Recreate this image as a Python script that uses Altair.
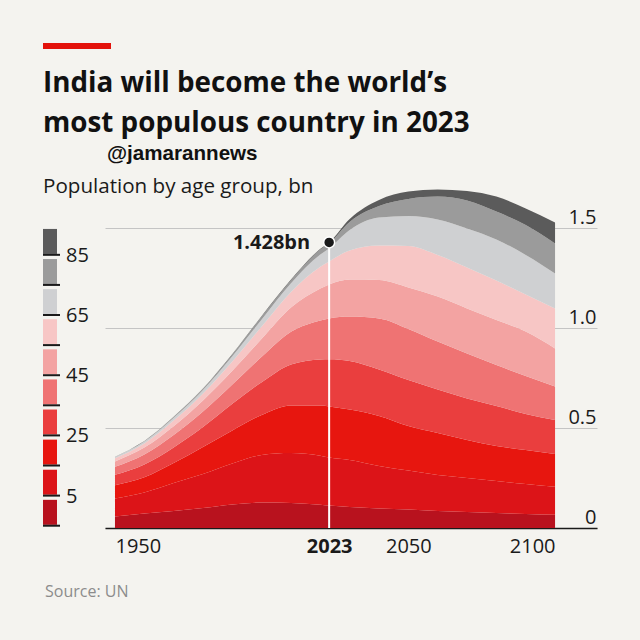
import altair as alt
import pandas as pd

# ---------------- data (India, population by age group, bn) ----------------
years = [1950, 1960, 1970, 1980, 1990, 2000, 2010, 2020, 2023,
         2030, 2040, 2050, 2060, 2070, 2080, 2090, 2100]

groups = ["0-4", "5-14", "15-24", "25-34", "35-44",
          "45-54", "55-64", "65-74", "75-84", "85+"]

colors = ["#b8121e", "#dc1418", "#e7160f", "#ea3e3e", "#ef7373",
          "#f3a3a2", "#f7c6c5", "#cfd0d2", "#9b9b9b", "#5b5b5b"]

age_0_4   = [.058, .072, .085, .100, .118, .127, .125, .116, .112, .105, .098, .092, .085, .080, .075, .070, .066]
age_5_14  = [.090, .106, .140, .170, .205, .238, .250, .245, .240, .235, .212, .195, .180, .170, .160, .150, .140]
age_15_24 = [.066, .076, .100, .135, .165, .200, .238, .252, .256, .252, .250, .223, .210, .190, .175, .170, .164]
age_25_34 = [.052, .064, .078, .100, .133, .164, .205, .230, .236, .243, .233, .230, .218, .208, .200, .180, .170]
age_35_44 = [.040, .050, .062, .077, .096, .127, .163, .195, .204, .222, .255, .255, .239, .225, .205, .190, .167]
age_45_54 = [.027, .034, .044, .056, .069, .090, .121, .160, .170, .185, .192, .208, .225, .225, .225, .222, .191]
age_55_64 = [.016, .021, .028, .035, .047, .061, .078, .108, .115, .145, .172, .207, .208, .205, .197, .186, .200]
age_65_74 = [.0055, .009, .014, .017, .026, .036, .044, .062, .065, .103, .140, .150, .178, .195, .206, .197, .175]
age_75_84 = [.0015, .0025, .0045, .006, .009, .014, .015, .024, .025, .040, .058, .085, .114, .139, .139, .150, .150]
age_85_up = [.0005, .0005, .0007, .001, .0015, .003, .003, .004, .005, .015, .030, .037, .036, .048, .075, .083, .104]

series = [age_0_4, age_5_14, age_15_24, age_25_34, age_35_44,
          age_45_54, age_55_64, age_65_74, age_75_84, age_85_up]

x_ticks = [1950, 2023, 2050, 2100]
y_ticks = [0, 0.5, 1.0, 1.5]

highlight_year = [2023]
highlight_value = [1.428]
highlight_label = ["1.428bn"]

legend_tick_labels = ["5", "25", "45", "65", "85"]
legend_label_pos = [1, 3, 5, 7, 9]

title_lines = ["India will become the world’s", "most populous country in 2023"]
subtitle_text = ["Population by age group, bn"]
watermark_text = ["@jamarannews"]
source_text = ["Source: UN"]

# ---------------- tables ----------------
rows = []
for gi, (g, vals) in enumerate(zip(groups, series)):
    for y, v in zip(years, vals):
        rows.append({"year": y, "group": g, "idx": gi, "value": v})
df = pd.DataFrame(rows)

hl = pd.DataFrame({"year": highlight_year, "value": highlight_value,
                   "label": highlight_label, "zero": [0]})

leg = pd.DataFrame({"group": groups, "i": list(range(len(groups)))})
leg["lo"] = leg["i"] + 0.03
leg["hi"] = leg["i"] + 0.86
leg_lab = pd.DataFrame({"label": legend_tick_labels, "pos": legend_label_pos})

FONT = "Open Sans"
BG = "#f4f3ef"
INK = "#1a1a1a"

xscale = alt.Scale(domain=[1946.6, 2114.3], nice=False, zero=False)
yscale = alt.Scale(domain=[0, 1.7], nice=False, zero=False)
cscale = alt.Scale(domain=groups, range=colors)
legscale = alt.Scale(domain=[-0.076, 11.22], nice=False, zero=False)

x_axis = alt.Axis(values=x_ticks, format="d", title=None, grid=False, ticks=False,
                  domain=True, domainColor=INK, domainWidth=1.5,
                  labelFont=FONT, labelFontSize=20, labelColor=INK,
                  labelPadding=8, labelFlush=False,
                  labelAlign={"condition": [{"test": "datum.value === 1950", "value": "left"},
                                            {"test": "datum.value === 2100", "value": "right"}],
                              "value": "center"},
                  labelFontWeight={"condition": {"test": "datum.value === 2023", "value": "bold"},
                                   "value": "normal"})

y_axis = alt.Axis(values=y_ticks, orient="right", title=None, grid=True,
                  gridColor="#c4c4c4", gridWidth=1, domain=False, ticks=False,
                  tickSize=0, labelAlign="right", labelPadding=-1,
                  labelBaseline="alphabetic", labelOffset=-5, labelFlush=False,
                  labelFont=FONT, labelFontSize=20, labelColor=INK,
                  labelExpr="datum.value == 0 ? '0' : format(datum.value, '.1f')")

areas = alt.Chart(df).mark_area(interpolate="monotone").encode(
    x=alt.X("year:Q", scale=xscale, axis=x_axis),
    y=alt.Y("value:Q", stack="zero", scale=yscale, axis=y_axis),
    color=alt.Color("group:N", scale=cscale, legend=None),
    order=alt.Order("idx:Q", sort="ascending"),
)

vline = alt.Chart(hl).mark_rule(color="white", strokeWidth=2).encode(
    x=alt.X("year:Q", scale=xscale),
    y=alt.Y("zero:Q", scale=yscale, axis=None),
    y2="value:Q",
)

dot = alt.Chart(hl).mark_point(filled=True, shape="circle", size=120, color=INK,
                               stroke="white", strokeWidth=1.5, opacity=1).encode(
    x=alt.X("year:Q", scale=xscale),
    y=alt.Y("value:Q", scale=yscale, axis=None),
)

dot_label = alt.Chart(hl).mark_text(align="right", baseline="middle", dx=-19, dy=1,
                                    font=FONT, fontSize=20, fontWeight="bold",
                                    color=INK).encode(
    x=alt.X("year:Q", scale=xscale),
    y=alt.Y("value:Q", scale=yscale, axis=None),
    text="label:N",
)

leg_bars = alt.Chart(leg).mark_rect().encode(
    x=alt.value(-62), x2=alt.value(-48),
    y=alt.Y("lo:Q", scale=legscale, axis=None), y2="hi:Q",
    color=alt.Color("group:N", scale=cscale, legend=None),
)

leg_ticks = alt.Chart(leg).mark_rule(color=INK, strokeWidth=2).encode(
    x=alt.value(-62), x2=alt.value(-45),
    y=alt.Y("i:Q", scale=legscale, axis=None),
)

leg_text = alt.Chart(leg_lab).mark_text(align="left", baseline="middle", font=FONT,
                                        fontSize=20, color=INK, dy=1).encode(
    x=alt.value(-39),
    y=alt.Y("pos:Q", scale=legscale, axis=None),
    text="label:N",
)

red_bar = alt.Chart(pd.DataFrame({"k": [0]})).mark_rect(color="#e3120b").encode(
    x=alt.value(-62), x2=alt.value(6), y=alt.value(-145), y2=alt.value(-139),
)

title1 = alt.Chart(pd.DataFrame({"t": title_lines[:1]})).mark_text(
    align="left", baseline="alphabetic", font=FONT, fontSize=27.8, fontWeight="bold",
    color="#111111").encode(x=alt.value(-62), y=alt.value(-96), text="t:N")

title2 = alt.Chart(pd.DataFrame({"t": title_lines[1:]})).mark_text(
    align="left", baseline="alphabetic", font=FONT, fontSize=27.8, fontWeight="bold",
    color="#111111").encode(x=alt.value(-62), y=alt.value(-56), text="t:N")

subtitle = alt.Chart(pd.DataFrame({"t": subtitle_text})).mark_text(
    align="left", baseline="alphabetic", font=FONT, fontSize=20.6,
    color=INK).encode(x=alt.value(-62), y=alt.value(5), text="t:N")

watermark = alt.Chart(pd.DataFrame({"t": watermark_text})).mark_text(
    align="left", baseline="alphabetic", font="Liberation Sans", fontSize=20.6,
    fontWeight="bold", color="#111111").encode(
    x=alt.value(2), y=alt.value(-28), text="t:N",
)

source = alt.Chart(pd.DataFrame({"t": source_text})).mark_text(
    align="left", baseline="alphabetic", font=FONT, fontSize=16,
    color="#8c8c8c").encode(
    x=alt.value(-60), y=alt.value(409), text="t:N",
)

chart = alt.layer(
    areas, vline, dot, dot_label, leg_bars, leg_ticks, leg_text,
    red_bar, title1, title2, subtitle, watermark, source,
).resolve_scale(
    y="independent"
).properties(
    width=492, height=340,
    autosize=alt.AutoSizeParams(type="none"),
    padding={"left": 105, "top": 188, "right": 43, "bottom": 112},
    background=BG,
).configure_view(stroke=None)

chart.save("out.html", embed_options={"renderer": "svg", "actions": False})
